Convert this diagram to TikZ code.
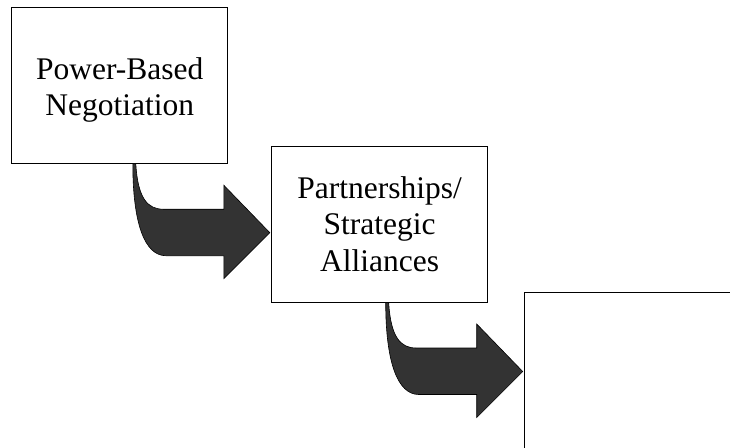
\documentclass[tikz,border=0pt]{standalone}
\usepackage{fontspec}
\setmainfont{Liberation Serif}
\definecolor{arrowgray}{HTML}{333333}
\begin{document}
\begin{tikzpicture}[
    x=1pt, y=-1pt,
    every node/.style={font=\fontsize{31.5}{36.5}\selectfont}
  ]

  \tikzset{
    box/.style={draw=black, line width=1pt, fill=white, minimum width=216pt, minimum height=156pt, align=center, inner sep=0pt},
    bentarrow/.pic={
      \draw[fill=arrowgray, line width=0.6pt, line join=miter]
        (0,0) .. controls (0,60) and (12,92) .. (33,92)
        -- (91,92) -- (91,115) -- (137,69) -- (91,21.5) -- (91,45.5)
        -- (30.5,45.5) .. controls (15,45.5) and (5,35) .. (3,0) -- cycle;
    }
  }

  \useasboundingbox (0,0) rectangle (730,447);
  \clip (0,0) rectangle (730,447);

  % Steps
  \node[box] (power) at (119.8,85.2) {\rule{0pt}{31.5pt}Power-Based\\Negotiation};
  \node[box] (partner) at (379.7,224) {Partnerships/\\Strategic\\Alliances};
  \node[box] (next) at (632.4,370.7) {};

  % Arrows between the steps
  \pic at ([xshift=13pt]power.south) {bentarrow};
  \pic at ([xshift=6pt]partner.south) {bentarrow};

\end{tikzpicture}
\end{document}
